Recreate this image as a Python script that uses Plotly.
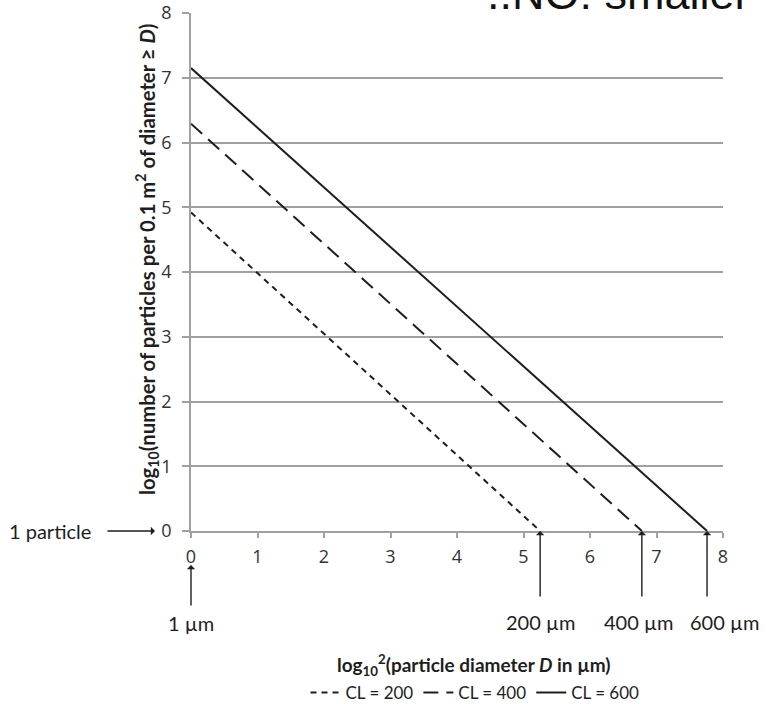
import plotly.graph_objects as go

# ---- data ----
cl_names = ["CL = 200", "CL = 400", "CL = 600"]
y_at_1um = [4.92, 6.29, 7.15]          # log10(N) where D = 1 µm (x = 0)
x_at_1particle = [5.25, 6.78, 7.76]    # x where log10(N) = 0
size_labels = ["200 µm", "400 µm", "600 µm"]
size_label_nudge = [0, -3, 17]         # px shift of the label relative to its arrow
dash_styles = ["6px,5px", "15px,8px", "solid"]
x_ticks = [0, 1, 2, 3, 4, 5, 6, 7, 8]
y_ticks = [0, 1, 2, 3, 4, 5, 6, 7, 8]
overlay_text = "..NO: smaller"

FONT = "Lato"
TICKFONT = "Open Sans"
INK = "#1e1e1e"
GRID = "#a0a0a0"

L, R, T, B = 191, 43, 13, 173
W, H = 766, 704
pw = W - L - R
ph = H - T - B

def px_to_paper_x(px):
    return (px - L) / pw

def px_to_paper_y(py):
    return (H - B - py) / ph

fig = go.Figure()
for name, y0, x1, dsh in zip(cl_names, y_at_1um, x_at_1particle, dash_styles):
    fig.add_trace(go.Scatter(
        x=[0, x1], y=[y0, 0], mode="lines", name=name,
        line=dict(color=INK, width=2, dash=dsh),
        cliponaxis=False,
    ))

# cropped overlay text at the very top (only its lower part is visible)
fig.add_shape(
    type="line", xref="paper", yref="paper",
    x0=px_to_paper_x(487), x1=px_to_paper_x(760),
    y0=px_to_paper_y(15), y1=px_to_paper_y(15),
    line=dict(width=0, color="rgba(0,0,0,0)"),
    label=dict(text=overlay_text, textposition="start", xanchor="left", yanchor="bottom",
               padding=0, font=dict(family="Liberation Sans", size=45, color="#111")),
)

LAB = dict(family=FONT, size=20, color=INK)

annotations = []
# size arrows and labels
for lab, x1, nud in zip(size_labels, x_at_1particle, size_label_nudge):
    annotations.append(dict(x=x1, y=0, xref="x", yref="y", text="", showarrow=True,
                            ax=0, ay=67, arrowhead=1, arrowsize=1, arrowwidth=1.4,
                            arrowcolor=INK))
    annotations.append(dict(x=x1, y=px_to_paper_y(622), xref="x", yref="paper", text=lab,
                            xshift=nud, showarrow=False, font=LAB,
                            xanchor="center", yanchor="middle"))
# 1 µm
annotations.append(dict(x=0, y=px_to_paper_y(565), xref="x", yref="paper", text="",
                        showarrow=True, ax=0, ay=42, arrowhead=1, arrowsize=1,
                        arrowwidth=1.4, arrowcolor=INK))
annotations.append(dict(x=0, y=px_to_paper_y(623), xref="x", yref="paper", text="1 µm",
                        showarrow=False, font=LAB, xanchor="center", yanchor="middle"))
# 1 particle
annotations.append(dict(x=px_to_paper_x(155), y=0, xref="paper", yref="y", text="",
                        showarrow=True, ax=-49, ay=0, arrowhead=1, arrowsize=1,
                        arrowwidth=1.4, arrowcolor=INK))
annotations.append(dict(x=px_to_paper_x(93), y=0, xref="paper", yref="y", text="1 particle",
                        showarrow=False, font=LAB, xanchor="right", yanchor="middle"))
# x axis title (placed to match the reference's offset centre)
annotations.append(dict(x=px_to_paper_x(474), y=px_to_paper_y(665), xref="paper", yref="paper",
                        text="<b>log<sub>10</sub><sup>2</sup>(particle diameter <i>D</i> in µm)</b>",
                        showarrow=False, font=dict(family=FONT, size=19, color=INK),
                        xanchor="center", yanchor="middle"))
# y axis title
annotations.append(dict(x=px_to_paper_x(147), y=px_to_paper_y(260), xref="paper", yref="paper",
                        text="<b>log<sub>10</sub>(number of particles per 0.1 m<sup>2</sup> of diameter ≥ <i>D</i>)</b>",
                        textangle=-90, showarrow=False,
                        font=dict(family=FONT, size=20.3, color=INK),
                        xanchor="center", yanchor="middle"))

fig.update_layout(
    width=W, height=H,
    margin=dict(l=L, r=R, t=T, b=B),
    paper_bgcolor="white", plot_bgcolor="white",
    font=dict(family=FONT, size=17, color="#333"),
    xaxis=dict(range=[0, 8], tickvals=x_ticks, showgrid=False, zeroline=False,
               showline=True, linecolor=GRID, linewidth=1.5,
               ticks="outside", ticklen=5, tickcolor=GRID, tickwidth=1.5,
               tickfont=dict(family=TICKFONT, size=18, color="#333"),
               ticklabelstandoff=4, automargin=False),
    yaxis=dict(range=[0, 8], tickvals=y_ticks, showgrid=True, gridcolor=GRID, gridwidth=1.5,
               zeroline=False, showline=True, linecolor=GRID, linewidth=1.5,
               ticks="outside", ticklen=7, tickcolor=GRID, tickwidth=1.5,
               tickfont=dict(family=TICKFONT, size=18, color="#333"),
               ticklabelstandoff=7, automargin=False),
    legend=dict(orientation="h", x=475 / W, xanchor="center", xref="container",
                y=1 - 693 / H, yanchor="middle", yref="container",
                font=dict(family=FONT, size=17, color=INK), bgcolor="rgba(0,0,0,0)",
                tracegroupgap=0),
    showlegend=True,
    annotations=annotations,
)

fig.write_html("out.html")
